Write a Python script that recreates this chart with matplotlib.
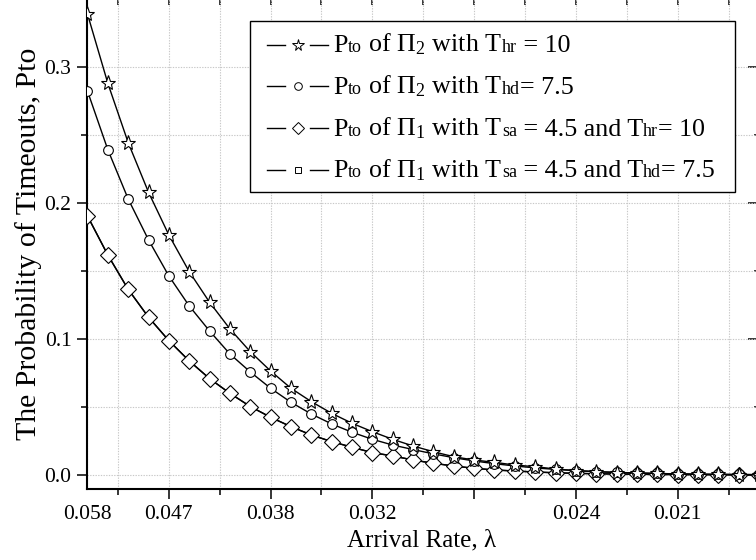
import matplotlib
matplotlib.use("Agg")
import matplotlib.pyplot as plt
from matplotlib.offsetbox import AnchoredOffsetbox, HPacker, VPacker, TextArea, DrawingArea
from matplotlib.lines import Line2D
from matplotlib.ticker import FixedLocator

SERIF = "Liberation Serif"
plt.rcParams["font.family"] = [SERIF, "DejaVu Serif"]
plt.rcParams["mathtext.fontset"] = "custom"
plt.rcParams["mathtext.rm"] = SERIF
plt.rcParams["mathtext.it"] = SERIF
plt.rcParams["mathtext.default"] = "regular"

# ---- data (x: sample position on the inverse-rate axis) ----
x_vals = [17.25 + k for k in range(34)]

star_hr = [0.3387, 0.2878, 0.2442, 0.2077, 0.1763, 0.1494, 0.1269, 0.1073, 0.0906,
           0.0764, 0.0637, 0.0539, 0.0453, 0.0380, 0.0318, 0.0262, 0.0213, 0.0171,
           0.0134, 0.0110, 0.0093, 0.0073, 0.0061, 0.0044, 0.0032, 0.0024, 0.0018,
           0.0015, 0.0011, 0.0008, 0.0006, 0.0004, 0.0003, 0.0002]
circle_hd = [0.2821, 0.2390, 0.2028, 0.1727, 0.1462, 0.1242, 0.1058, 0.0889, 0.0757,
             0.0637, 0.0534, 0.0448, 0.0375, 0.0314, 0.0262, 0.0220, 0.0187, 0.0155,
             0.0127, 0.0103, 0.0083, 0.0066, 0.0052, 0.0041, 0.0032, 0.0025, 0.0019,
             0.0015, 0.0011, 0.0008, 0.0006, 0.0005, 0.0004, 0.0003]
diamond_sa_hr = [0.1903, 0.1616, 0.1364, 0.1159, 0.0987, 0.0838, 0.0708, 0.0600, 0.0503,
                 0.0424, 0.0355, 0.0294, 0.0245, 0.0204, 0.0164, 0.0140, 0.0110, 0.0086,
                 0.0066, 0.0049, 0.0037, 0.0029, 0.0022, 0.0016, 0.0012, 0.0009, 0.0007,
                 0.0005, 0.0004, 0.0003, 0.0002, 0.0002, 0.0001, 0.0001]
square_sa_hd = [0.1903, 0.1616, 0.1364, 0.1159, 0.0987, 0.0838, 0.0708, 0.0600, 0.0503,
                0.0424, 0.0355, 0.0294, 0.0245, 0.0204, 0.0164, 0.0140, 0.0110, 0.0086,
                0.0066, 0.0049, 0.0037, 0.0029, 0.0022, 0.0016, 0.0012, 0.0009, 0.0007,
                0.0005, 0.0004, 0.0003, 0.0002, 0.0002, 0.0001, 0.0001]

x_major = [17.23, 21.25, 26.25, 31.25, 36.25, 41.25, 46.25]
x_major_labels = ["0.058", "0.047", "0.038", "0.032", "", "0.024", "0.021"]
x_minor = [18.75, 23.75, 28.75, 33.75, 38.75, 43.75, 48.75]
y_major = [0.0, 0.1, 0.2, 0.3]
y_major_labels = ["0.0", "0.1", "0.2", "0.3"]
y_minor = [0.05, 0.15, 0.25]

legend_rows = [
    [("P", 0), ("to", 1), (" of Π$_2$ with T", 0), ("hr", 1), (" = 10", 0)],
    [("P", 0), ("to", 1), (" of Π$_2$ with T", 0), ("hd", 1), ("= 7.5", 0)],
    [("P", 0), ("to", 1), (" of Π$_1$ with T", 0), ("sa", 1), (" = 4.5 and T", 0), ("hr", 1), ("= 10", 0)],
    [("P", 0), ("to", 1), (" of Π$_1$ with T", 0), ("sa", 1), (" = 4.5 and T", 0), ("hd", 1), ("= 7.5", 0)],
]

# ---- figure ----
fig = plt.figure(figsize=(7.56, 5.6), dpi=100)
ax = fig.add_axes([87 / 756, 1 - 489 / 560, 670 / 756, 490 / 560])
ax.set_xlim(17.227, 50.15)
ax.set_ylim(-0.0103, 0.3497)

styles = [
    (square_sa_hd, "s", 6.0),
    (diamond_sa_hr, "D", 7.8),
    (circle_hd, "o", 7.0),
    (star_hr, "*", 11.0),
]
for z, (vals, mk, ms) in enumerate(styles):
    ax.plot(x_vals, vals, color="black", lw=1.0, marker=mk, ms=ms,
            mfc="white", mec="black", mew=0.8, zorder=3 + z, clip_on=True)

ax.xaxis.set_major_locator(FixedLocator(x_major))
ax.set_xticklabels(x_major_labels)
ax.xaxis.set_minor_locator(FixedLocator(x_minor))
ax.yaxis.set_major_locator(FixedLocator(y_major))
ax.set_yticklabels(y_major_labels)
ax.yaxis.set_minor_locator(FixedLocator(y_minor))

ax.grid(True, which="both", color="#c8c8c8", linestyle=(0, (1.2, 1.2)), lw=0.8, zorder=0)

ax.tick_params(which="both", direction="out", width=1.1, labelsize=15.5,
               top=False, right=False)
ax.tick_params(which="major", length=7.2, pad=4)
ax.tick_params(which="minor", length=4.0)
ax.tick_params(axis="x", which="major", pad=4.5)
ax.xaxis.get_major_ticks()[0].tick1line.set_visible(False)
for s in ax.spines.values():
    s.set_linewidth(1.5)
ax.spines["top"].set_visible(False)
ax.spines["right"].set_visible(False)

# inward ticks along the cropped top / right edges
sec_x = ax.secondary_xaxis("top")
sec_x.xaxis.set_major_locator(FixedLocator(x_major[1:]))
sec_x.xaxis.set_minor_locator(FixedLocator(x_minor))
sec_x.tick_params(which="both", direction="in", length=4, width=1.1, labeltop=False)
sec_x.spines["top"].set_visible(False)
sec_y = ax.secondary_yaxis("right")
sec_y.yaxis.set_major_locator(FixedLocator(y_major))
sec_y.yaxis.set_minor_locator(FixedLocator(y_minor))
sec_y.tick_params(which="major", direction="in", length=6.5, width=1.1, labelright=False)
sec_y.tick_params(which="minor", direction="in", length=2.5, width=1.1, labelright=False)
sec_y.spines["right"].set_visible(False)

ax.set_xlabel("Arrival Rate, λ", fontsize=18, labelpad=4)
ax.set_ylabel("The Probability of Timeouts, Pto", fontsize=21.5, labelpad=1.5)

# ---- legend ----
markers = [("*", 8.5), ("o", 5.5), ("D", 6.0), ("s", 4.5)]
BIG, SMALL = 18.7, 13
rows = []
for (mk, ms), parts in zip(markers, legend_rows):
    da = DrawingArea(44, 14, 0, 0)
    da.add_artist(Line2D([0, 13], [7, 7], color="black", lw=1.0))
    da.add_artist(Line2D([31, 44], [7, 7], color="black", lw=1.0))
    da.add_artist(Line2D([22], [7], marker=mk, ms=ms, mfc="white", mec="black",
                         mew=0.7, ls="none"))
    tas = [TextArea(t, textprops=dict(fontsize=(SMALL if sm else BIG), family=SERIF))
           for t, sm in parts]
    txt = HPacker(children=tas, align="baseline", pad=0, sep=0)
    rows.append(HPacker(children=[da, txt], align="center", pad=0, sep=4))
box = VPacker(children=rows, align="left", pad=0, sep=11.7)
col = VPacker(children=[DrawingArea(1, 8.0), box, DrawingArea(1, 6.5)], align="left", pad=0, sep=0)
framed = HPacker(children=[DrawingArea(12.2, 1), col, DrawingArea(14.4, 1)],
                 align="center", pad=0, sep=0)
anch = AnchoredOffsetbox(loc="upper left", child=framed, pad=0, borderpad=0,
                         frameon=True, prop=dict(size=10),
                         bbox_to_anchor=(250 / 756, 1 - 20.7 / 560),
                         bbox_transform=fig.transFigure)
anch.patch.set_boxstyle("square,pad=0")
anch.patch.set_edgecolor("black")
anch.patch.set_linewidth(1.0)
anch.zorder = 10
ax.add_artist(anch)

fig.savefig("out.png", dpi=100)
